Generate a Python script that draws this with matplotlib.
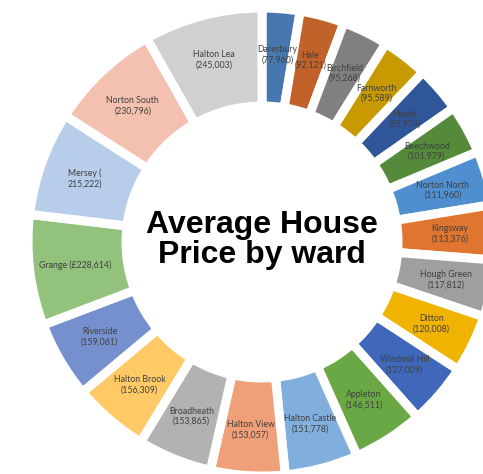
import numpy as np
import matplotlib
matplotlib.use("Agg")
import matplotlib.pyplot as plt

wards = [
    "Daresbury", "Hale", "Birchfield", "Farnworth", "Heath", "Beechwood",
    "Norton North", "Kingsway", "Hough Green", "Ditton", "Windmill Hill",
    "Appleton", "Halton Castle", "Halton View", "Broadheath", "Halton Brook",
    "Riverside", "Grange", "Mersey", "Norton South", "Halton Lea",
]
prices = [
    77960, 92121, 95268, 95589, 95974, 101979,
    111960, 113376, 117812, 120008, 127009,
    146511, 151778, 153057, 153865, 156309,
    159061, 228614, 215222, 230796, 245003,
]
labels = [
    "Daresbury\n(77,960)", "Hale\n(92,121)", "Birchfield\n(95,268)",
    "Farnworth\n(95,589)", "Heath\n(95,974)", "Beechwood\n(101,979)",
    "Norton North\n(111,960)", "Kingsway\n(113,376)", "Hough Green\n(117,812)",
    "Ditton\n(120,008)", "Windmill Hill\n(127,009)", "Appleton\n(146,511)",
    "Halton Castle\n(151,778)", "Halton View\n(153,057)", "Broadheath\n(153,865)",
    "Halton Brook\n(156,309)", "Riverside\n(159,061)", "Grange (£228,614)",
    "Mersey (\n215,222)", "Norton South\n(230,796)", "Halton Lea\n(245,003)",
]
colors = [
    "#4677ae", "#c0622a", "#808080", "#c99a00", "#30569a", "#548a3a",
    "#4f8fd0", "#e07530", "#9f9f9f", "#f0b400", "#3f68ba",
    "#6aa845", "#80aedd", "#f0a078", "#b2b2b2", "#ffc966",
    "#7690cf", "#92c27c", "#b7cdea", "#f4c0b0", "#d0d0d0",
]

W, H = 483, 474
fig = plt.figure(figsize=(W / 100, H / 100), dpi=100)
ax = fig.add_axes([0, 0, 1, 1])

cx, cy = 262, H - 242
outer, ring = 234, 98

wedges, _ = ax.pie(
    prices,
    colors=colors,
    startangle=90,
    counterclock=False,
    radius=outer,
    center=(cx, cy),
    wedgeprops=dict(width=ring, edgecolor="white", linewidth=6.5),
)

r_lab = outer - ring / 2 + 3
for w, lab in zip(wedges, labels):
    mid = np.deg2rad((w.theta1 + w.theta2) / 2)
    ax.text(cx + r_lab * np.cos(mid), cy + r_lab * np.sin(mid), lab,
            ha="center", va="center", fontsize=6.3, color="#404040",
            family=["Lato", "DejaVu Sans"], linespacing=1.2)

ax.text(cx, cy + 2, "Average House\nPrice by ward", ha="center", va="center",
        fontsize=23, fontweight="bold", family="Liberation Sans",
        linespacing=1.0, color="black")

ax.set_xlim(0, W)
ax.set_ylim(0, H)
ax.set_aspect("auto")
ax.axis("off")

fig.savefig("out.png", dpi=100)
